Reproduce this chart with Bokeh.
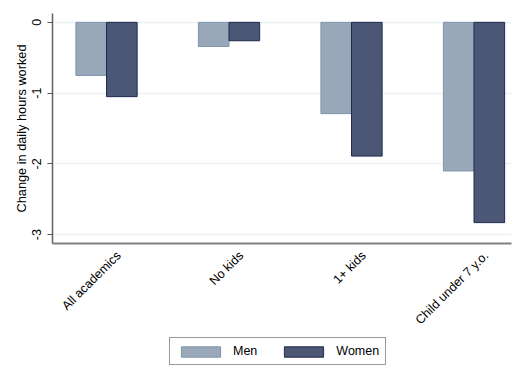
import math
from bokeh.plotting import figure
from bokeh.layouts import column
from bokeh.models import ColumnDataSource, FixedTicker, Range1d, Legend, LegendItem
from bokeh.embed import file_html
from bokeh.resources import INLINE

categories = ["All academics", "No kids", "1+ kids", "Child under 7 y.o."]
men = [-0.75, -0.34, -1.29, -2.10]
women = [-1.05, -0.26, -1.89, -2.83]
y_ticks = [0, -1, -2, -3]
y_tick_labels = ["0", "-1", "-2", "-3"]

FONT = "Liberation Sans"
BAR_W = 0.25
MEN_FILL, MEN_LINE = "#98A8B9", "#7F95AD"
WOMEN_FILL, WOMEN_LINE = "#4B5775", "#1F2B4D"
idx = list(range(len(categories)))
label_pos = [i + 0.1 for i in idx]

men_src = ColumnDataSource(dict(x=[i - BAR_W / 2 for i in idx], top=men))
women_src = ColumnDataSource(dict(x=[i + BAR_W / 2 for i in idx], top=women))

p = figure(width=512, height=335, output_backend="svg", toolbar_location=None,
           x_range=Range1d(-0.441, 3.306), y_range=Range1d(-3.125, 0.125),
           min_border_left=52, min_border_right=1, min_border_top=13, min_border_bottom=89)
p.background_fill_color = "white"
p.border_fill_color = "white"
p.outline_line_color = None

r_men = p.vbar(x="x", top="top", bottom=0, width=BAR_W, source=men_src,
               fill_color=MEN_FILL, line_color=MEN_LINE, line_width=1)
r_women = p.vbar(x="x", top="top", bottom=0, width=BAR_W, source=women_src,
                 fill_color=WOMEN_FILL, line_color=WOMEN_LINE, line_width=1)

# x axis
xa = p.xaxis[0]
xa.ticker = FixedTicker(ticks=label_pos)
xa.major_label_overrides = {t: c for t, c in zip(label_pos, categories)}
xa.major_label_orientation = math.pi / 4
xa.major_tick_line_color = None
xa.minor_tick_line_color = None
xa.axis_line_color = "#808080"
xa.axis_line_width = 2
xa.major_label_text_font = FONT
xa.major_label_text_font_size = "12.5px"
xa.major_label_text_color = "black"
xa.major_label_standoff = 4

# y axis
ya = p.yaxis[0]
ya.ticker = FixedTicker(ticks=y_ticks)
ya.major_label_overrides = {t: l for t, l in zip(y_ticks, y_tick_labels)}
ya.major_label_orientation = "parallel"
ya.minor_tick_line_color = None
ya.major_tick_out = 5
ya.major_tick_in = 0
ya.major_tick_line_color = "#555555"
ya.axis_line_color = "#606060"
ya.axis_line_width = 1.5
ya.major_label_text_font = FONT
ya.major_label_text_font_size = "12.5px"
ya.major_label_text_color = "black"
ya.major_label_standoff = 6
ya.axis_label = "Change in daily hours worked"
ya.axis_label_text_font = FONT
ya.axis_label_text_font_size = "12.75px"
ya.axis_label_text_font_style = "normal"
ya.axis_label_text_color = "black"
ya.axis_label_standoff = 1

p.xgrid.grid_line_color = None
p.ygrid.ticker = FixedTicker(ticks=y_ticks)
p.ygrid.grid_line_color = "#EAF2F3"
p.ygrid.grid_line_width = 1.5

# legend panel (separate strip below the chart)
q = figure(width=512, height=33, output_backend="svg", toolbar_location=None,
           x_range=Range1d(0, 1), y_range=Range1d(0, 1),
           x_axis_location=None, y_axis_location=None,
           min_border_left=0, min_border_right=0, min_border_top=0, min_border_bottom=0)
q.grid.visible = False
q.outline_line_color = None
q.background_fill_color = "white"
q.border_fill_color = "white"
lm = q.vbar(x="x", top="top", bottom=0, width=BAR_W, source=men_src,
            fill_color=MEN_FILL, line_color=MEN_LINE, line_width=1, visible=False)
lw = q.vbar(x="x", top="top", bottom=0, width=BAR_W, source=women_src,
            fill_color=WOMEN_FILL, line_color=WOMEN_LINE, line_width=1, visible=False)

legend = Legend(items=[LegendItem(label="Men", renderers=[lm]),
                       LegendItem(label="Women", renderers=[lw])],
                orientation="horizontal", location=(117, 3))
legend.glyph_width = 49
legend.glyph_height = 13
legend.label_height = 13
legend.label_width = 20
legend.label_standoff = 8
legend.spacing = 22
legend.padding = 6
legend.margin = 0
legend.label_text_font = FONT
legend.label_text_font_size = "12.5px"
legend.label_text_color = "black"
legend.border_line_color = "#333333"
legend.border_line_width = 1
legend.background_fill_color = "white"
legend.background_fill_alpha = 1
q.add_layout(legend)

layout = column(p, q, spacing=0)
open("out.html", "w").write(file_html(layout, INLINE))
